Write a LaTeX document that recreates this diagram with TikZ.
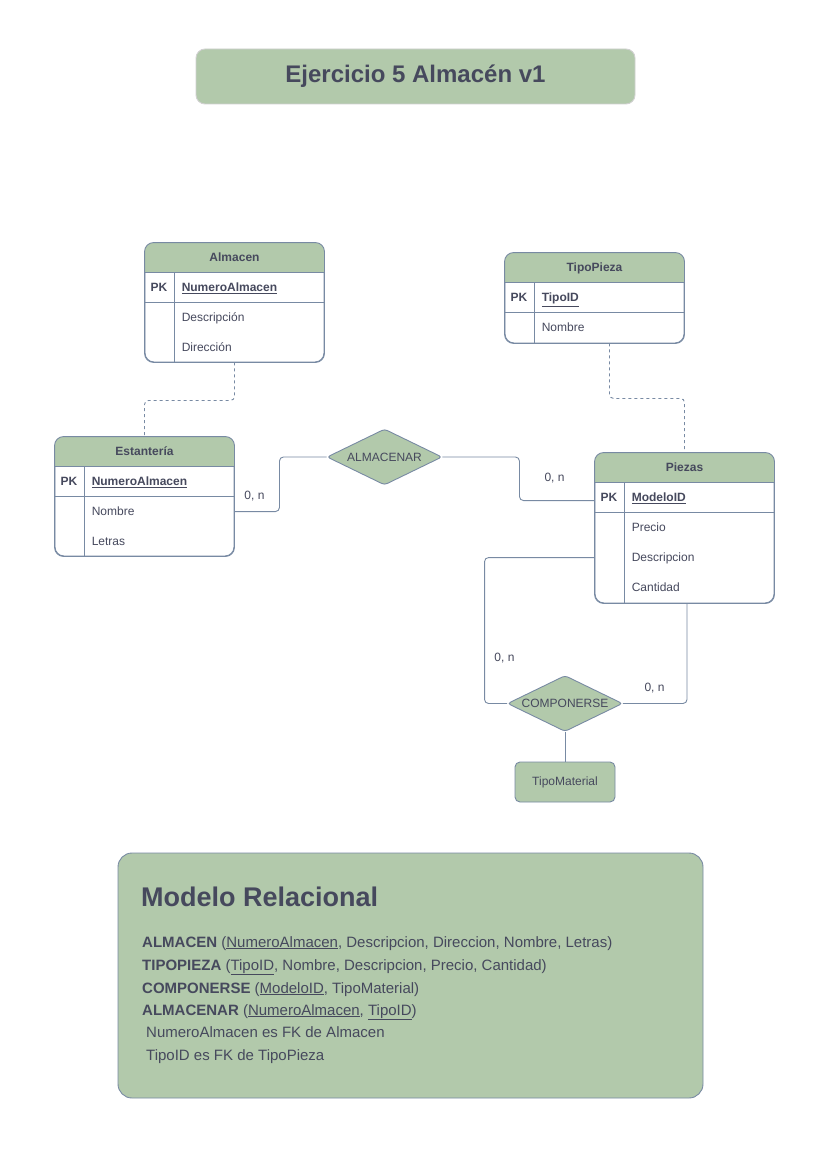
\documentclass[tikz,border=0pt]{standalone}
\usepackage{fontspec}
\setmainfont{Liberation Sans}
\usetikzlibrary{shapes.geometric,calc}
\definecolor{sage}{HTML}{B2C9AB}
\definecolor{edge}{HTML}{788AA3}
\definecolor{ink}{HTML}{46495D}
\tikzset{
  txt/.style={text=ink, font=\fontsize{12}{14}\selectfont, inner sep=0},
  btxt/.style={text=ink, font=\fontsize{12}{14}\selectfont\bfseries, inner sep=0},
  conn/.style={draw=edge, line width=0.9, rounded corners=4},
  dconn/.style={conn, dash pattern=on 3pt off 3pt},
  tblbox/.style={draw=edge, fill=white, rounded corners=9, minimum width=179, inner sep=0, line width=0.9},
  diam/.style={diamond, aspect=2.05, draw=edge, fill=sage, line width=0.9, rounded corners=3, inner sep=0, minimum width=115, minimum height=56, text=ink, font=\fontsize{12}{14}\selectfont},
  rel/.style={text=ink, font=\fontsize{15}{18}\selectfont, inner sep=0, anchor=base west},
}
\newcommand\ertable[5]{%
  \node[tblbox, minimum height=#4] (#1) at ({#2+89.5},{#3+#4/2}) {};
  \begin{scope}
    \clip[rounded corners=9] (#1.north west) rectangle (#1.south east);
    \fill[sage] (#1.north west) rectangle ($(#1.north east)+(0,30)$);
  \end{scope}
  \draw[edge, line width=0.9, rounded corners=9] (#1.north west) rectangle (#1.south east);
  \draw[edge, line width=0.9] ($(#1.north west)+(0,30)$) -- ($(#1.north east)+(0,30)$);
  \draw[edge, line width=0.9] ($(#1.north west)+(0,60)$) -- ($(#1.north east)+(0,60)$);
  \draw[edge, line width=0.9] ($(#1.north west)+(30,30)$) -- ($(#1.south west)+(30,0)$);
  \node[btxt, anchor=base] (#1T) at ($(#1.north)+(0,19.3)$) {#5};
  \node[btxt, anchor=base] (#1K) at ($(#1.north west)+(14.5,49.3)$) {PK};
}
\newcommand\errow[4]{%
  \node[txt, anchor=base west] (#1) at ($(#2.north west)+(37,#3+4.3)$) {#4};
}
\begin{document}
\begin{tikzpicture}[x=1pt,y=-1pt]
\useasboundingbox[fill=white] (0,0) rectangle (827,1169);

% title
\node[draw=black!18, fill=sage, rounded corners=9, minimum width=439, minimum height=55, text=ink,
      font=\fontsize{24}{28}\selectfont\bfseries, line width=0.9] (title) at (415.5,76.5) {Ejercicio 5 Almacén v1};

% tables
\ertable{almacen}{145}{243}{119}{Almacen}
\errow{almA}{almacen}{45}{\textbf{\underline{NumeroAlmacen}}}
\errow{almB}{almacen}{75}{Descripción}
\errow{almC}{almacen}{105}{Dirección}

\ertable{estanteria}{55}{437}{119}{Estantería}
\errow{estA}{estanteria}{45}{\textbf{\underline{NumeroAlmacen}}}
\errow{estB}{estanteria}{75}{Nombre}
\errow{estC}{estanteria}{105}{Letras}

\ertable{tipopieza}{505}{253}{90}{TipoPieza}
\errow{tpA}{tipopieza}{45}{\textbf{\underline{TipoID}}}
\errow{tpB}{tipopieza}{75}{Nombre}

\ertable{piezas}{595}{453}{150}{Piezas}
\errow{pzA}{piezas}{45}{\textbf{\underline{ModeloID}}}
\errow{pzB}{piezas}{75}{Precio}
\errow{pzC}{piezas}{105}{Descripcion}
\errow{pzD}{piezas}{135}{Cantidad}

% relationships
\node[diam] (almacenar) at (384.5,457) {ALMACENAR};
\node[diam] (componerse) at (565,703.5) {COMPONERSE};
\node[draw=edge, fill=sage, rounded corners=5, minimum width=100, minimum height=40, line width=0.9, txt] (tipomat) at (565,782) {TipoMaterial};

% connectors
\draw[dconn] (almacen.south) -- ++(0,38) -| (estanteria.north);
\draw[dconn] ($(tipopieza.south)+(15,0)$) -- ++(0,55) -| (piezas.north);
\draw[conn] ($(estanteria.north east)+(0,75)$) -- ++(45,0) |- (almacenar.west);
\draw[conn] (almacenar.east) -- ++(77,0) |- ($(piezas.north west)+(0,48)$);
\draw[conn] ($(piezas.north west)+(0,105)$) -- ++(-110,0) |- (componerse.west);
\draw[conn] ($(piezas.south)+(2.5,0)$) |- (componerse.east);
\draw[conn] (componerse.south) -- (componerse.south |- tipomat.north);

% cardinalities
\node[txt] (c1) at (254.5,496) {0, n};
\node[txt] (c2) at (554.5,478) {0, n};
\node[txt] (c3) at (504.5,658) {0, n};
\node[txt] (c4) at (654.5,688) {0, n};

% relational model
\node[draw=edge, fill=sage, rounded corners=14, minimum width=585, minimum height=245, line width=0.9] (modelo) at (410.5,975.5) {};
\node[text=ink, font=\fontsize{27}{30}\selectfont\bfseries, inner sep=0, anchor=base west] (mtitle) at (141,906) {Modelo Relacional};
\node[rel] (m1) at (142,947) {\textbf{ALMACEN} (\underline{NumeroAlmacen}, Descripcion, Direccion, Nombre, Letras)};
\node[rel] (m2) at (142,970) {\textbf{TIPOPIEZA} (\underline{TipoID}, Nombre, Descripcion, Precio, Cantidad)};
\node[rel] (m3) at (142,993) {\textbf{COMPONERSE} (\underline{ModeloID}, TipoMaterial)};
\node[rel] (m4) at (142,1015) {\textbf{ALMACENAR} (\underline{NumeroAlmacen}, \underline{TipoID})};
\node[rel] (m5) at (146,1037) {NumeroAlmacen es FK de Almacen};
\node[rel] (m6) at (146,1060) {TipoID es FK de TipoPieza};
\end{tikzpicture}
\end{document}
